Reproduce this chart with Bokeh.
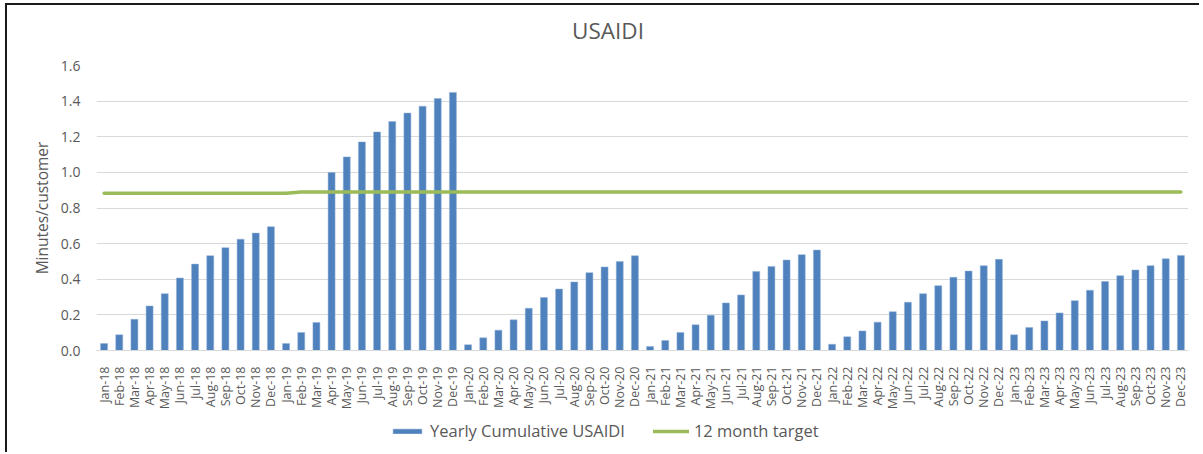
from bokeh.plotting import figure
from bokeh.layouts import column
from bokeh.models import (ColumnDataSource, FactorRange, Range1d, FixedTicker,
                          NumeralTickFormatter, Legend, LegendItem, Div)
from bokeh.embed import file_html
from bokeh.resources import INLINE
import math

month_names = ["Jan", "Feb", "Mar", "Apr", "May", "Jun",
               "Jul", "Aug", "Sep", "Oct", "Nov", "Dec"]
years = ["18", "19", "20", "21", "22", "23"]
months = [f"{m}-{y}" for y in years for m in month_names]

usaidi_2018 = [0.039, 0.088, 0.175, 0.250, 0.319, 0.407, 0.485, 0.532, 0.577, 0.625, 0.659, 0.695]
usaidi_2019 = [0.039, 0.101, 0.157, 1.000, 1.087, 1.171, 1.227, 1.285, 1.333, 1.371, 1.415, 1.449]
usaidi_2020 = [0.032, 0.071, 0.114, 0.172, 0.237, 0.297, 0.345, 0.385, 0.437, 0.469, 0.499, 0.532]
usaidi_2021 = [0.022, 0.056, 0.101, 0.144, 0.198, 0.267, 0.312, 0.443, 0.472, 0.508, 0.538, 0.564]
usaidi_2022 = [0.035, 0.077, 0.110, 0.159, 0.218, 0.271, 0.319, 0.364, 0.411, 0.446, 0.476, 0.512]
usaidi_2023 = [0.088, 0.129, 0.166, 0.211, 0.280, 0.338, 0.387, 0.420, 0.452, 0.476, 0.515, 0.534]

target_2018 = [0.883, 0.883, 0.883, 0.883, 0.883, 0.883, 0.883, 0.883, 0.883, 0.883, 0.883, 0.883]
target_2019 = [0.883, 0.890, 0.890, 0.890, 0.890, 0.890, 0.890, 0.890, 0.890, 0.890, 0.890, 0.890]
target_2020 = [0.890, 0.890, 0.890, 0.890, 0.890, 0.890, 0.890, 0.890, 0.890, 0.890, 0.890, 0.890]
target_2021 = [0.890, 0.890, 0.890, 0.890, 0.890, 0.890, 0.890, 0.890, 0.890, 0.890, 0.890, 0.890]
target_2022 = [0.890, 0.890, 0.890, 0.890, 0.890, 0.890, 0.890, 0.890, 0.890, 0.890, 0.890, 0.890]
target_2023 = [0.890, 0.890, 0.890, 0.890, 0.890, 0.890, 0.890, 0.890, 0.890, 0.890, 0.890, 0.890]

y_ticks = [0.0, 0.2, 0.4, 0.6, 0.8, 1.0, 1.2, 1.4, 1.6]

usaidi = usaidi_2018 + usaidi_2019 + usaidi_2020 + usaidi_2021 + usaidi_2022 + usaidi_2023
target = target_2018 + target_2019 + target_2020 + target_2021 + target_2022 + target_2023

src = ColumnDataSource(dict(month=months, usaidi=usaidi, target=target))

FONT = "Open Sans"
GRAY = "#595959"
BAR_COLOR = "#4F81BD"
BAR_EDGE = "#8FB0D8"
LINE_COLOR = "#9BBB59"

# chart title as a text block above the plot
title_div = Div(
    text=("<div style=\"width:1192px;box-sizing:border-box;text-align:center;"
          "font-family:'Open Sans';font-size:22.5px;color:#595959;line-height:30px;"
          "padding-top:11px;padding-left:10px;margin:0;\">USAIDI</div>"),
    width=1192, height=40, margin=0)

x_range = FactorRange(factors=months, range_padding=0)
y_range = Range1d(0, 1.6)

p = figure(x_range=x_range, y_range=y_range,
           width=1192, height=367, output_backend="svg", toolbar_location=None,
           min_border_left=89, min_border_right=11, min_border_top=20, min_border_bottom=61)
p.outline_line_color = None
p.background_fill_color = "white"
p.border_fill_color = "white"

p.vbar(x="month", top="usaidi", source=src, width=0.46,
       fill_color=BAR_COLOR, line_color=BAR_EDGE, line_width=0.5)
p.line(x="month", y="target", source=src, line_color=LINE_COLOR,
       line_width=3.5, line_cap="round")

p.xgrid.grid_line_color = None
p.ygrid.grid_line_color = "#D9D9D9"
p.ygrid.grid_line_width = 1

p.yaxis.ticker = FixedTicker(ticks=y_ticks)
p.yaxis.formatter = NumeralTickFormatter(format="0.0")
p.yaxis.axis_line_color = None
p.yaxis.major_tick_line_color = None
p.yaxis.minor_tick_line_color = None
p.yaxis.major_label_text_font = FONT
p.yaxis.major_label_text_font_size = "14px"
p.yaxis.major_label_text_color = GRAY
p.yaxis.major_label_standoff = 10
p.yaxis.axis_label = "Minutes/customer"
p.yaxis.axis_label_text_font = FONT
p.yaxis.axis_label_text_font_size = "15.5px"
p.yaxis.axis_label_text_font_style = "normal"
p.yaxis.axis_label_text_color = GRAY
p.yaxis.axis_label_standoff = 5

p.xaxis.axis_line_color = "#D9D9D9"
p.xaxis.axis_line_width = 1
p.xaxis.major_tick_line_color = None
p.xaxis.minor_tick_line_color = None
p.xaxis.major_label_orientation = math.pi / 2
p.xaxis.major_label_text_font = FONT
p.xaxis.major_label_text_font_size = "12.5px"
p.xaxis.major_label_text_color = GRAY
p.xaxis.major_label_standoff = 10

# legend strip below the chart (same data, hidden glyphs used only as legend swatches)
p2 = figure(x_range=x_range, y_range=y_range, width=1192, height=40,
            output_backend="svg", toolbar_location=None,
            x_axis_type=None, y_axis_type=None,
            min_border_left=0, min_border_right=0, min_border_top=0, min_border_bottom=0)
p2.outline_line_color = None
p2.xgrid.grid_line_color = None
p2.ygrid.grid_line_color = None
p2.background_fill_color = "white"
p2.border_fill_color = "white"
lb = p2.vbar(x="month", top="usaidi", source=src, width=0.46,
             fill_color=BAR_COLOR, line_color=BAR_EDGE, line_width=0.5, visible=False)
ll = p2.line(x="month", y="target", source=src, line_color=LINE_COLOR,
             line_width=3.5, line_cap="round", visible=False)

legend = Legend(items=[LegendItem(label="Yearly Cumulative USAIDI", renderers=[lb]),
                       LegendItem(label="12 month target", renderers=[ll])],
                location=(293, 10), orientation="horizontal",
                label_text_font=FONT, label_text_font_size="16.5px", label_text_color=GRAY,
                glyph_width=36, glyph_height=6, label_standoff=5, spacing=28,
                padding=0, margin=0, border_line_color=None, background_fill_alpha=0,
                inactive_fill_alpha=0)
p2.add_layout(legend, "center")

layout = column(title_div, p, p2, spacing=0,
                styles={"margin-left": "5px", "margin-top": "3px",
                        "border-left": "2px solid #1a1a1a", "border-top": "2px solid #1a1a1a"})
open("out.html", "w").write(file_html(layout, INLINE))
